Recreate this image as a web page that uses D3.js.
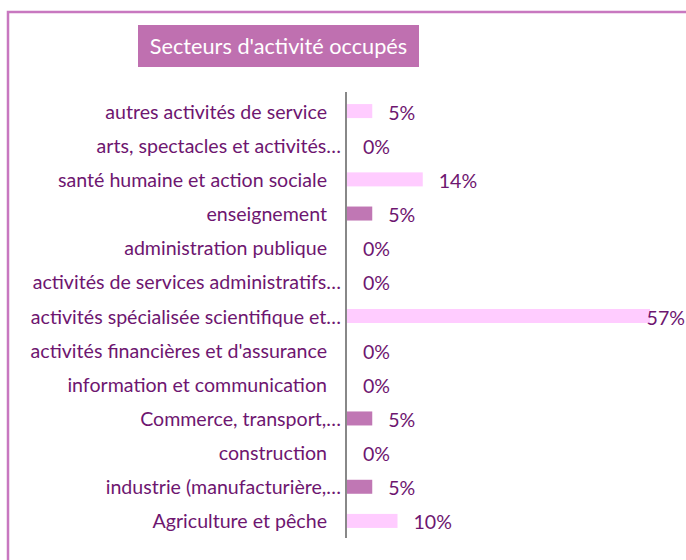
<!DOCTYPE html>
<html>
<head>
<meta charset="utf-8">
<script src="https://cdn.jsdelivr.net/npm/d3@7"></script>
<style>
  body { margin: 0; background: #fff; }
  svg { display: block; font-family: Lato, "Open Sans", sans-serif; }
</style>
</head>
<body>
<svg id="chart" width="686" height="560"></svg>
<script>
// categories, top to bottom as drawn
const categories = [
  "autres activités de service",
  "arts, spectacles et activités…",
  "santé humaine et action sociale",
  "enseignement",
  "administration publique",
  "activités de services administratifs…",
  "activités spécialisée scientifique et…",
  "activités financières et d'assurance",
  "information et communication",
  "Commerce, transport,…",
  "construction",
  "industrie (manufacturière,…",
  "Agriculture et pêche"
];
// share of respondents (counts out of 21)
const values = [1/21, 0, 3/21, 1/21, 0, 0, 12/21, 0, 0, 1/21, 0, 1/21, 2/21];
// highlighted rows get the darker fill
const highlighted = [false, false, false, true, false, false, false, false, false, true, false, true, false];

const svg = d3.select("#chart");

// outer frame
svg.append("rect")
  .attr("x", 8).attr("y", 12)
  .attr("width", 700).attr("height", 600)
  .attr("fill", "none")
  .attr("stroke", "#c878c0")
  .attr("stroke-width", 2.5);

// title box
svg.append("rect")
  .attr("x", 138).attr("y", 25)
  .attr("width", 281).attr("height", 42)
  .attr("fill", "#bf70b0");
svg.append("text")
  .attr("x", 278.5).attr("y", 46)
  .attr("text-anchor", "middle")
  .attr("dominant-baseline", "central")
  .attr("fill", "#fff")
  .attr("font-size", 21.7)
  .text("Secteurs d'activité occupés");

const x0 = 347;
const xScale = d3.scaleLinear().domain([0, 12/21]).range([x0, 650]);
const yScale = d3.scaleBand().domain(categories).range([94, 538])
  .paddingInner(0.59).paddingOuter(0.295);

const rows = categories.map((c, i) => ({ name: c, value: values[i], dark: highlighted[i] }));

// bars
svg.selectAll("rect.bar")
  .data(rows)
  .enter()
  .append("rect")
  .attr("class", "bar")
  .attr("x", x0)
  .attr("y", d => yScale(d.name))
  .attr("width", d => xScale(d.value) - x0)
  .attr("height", yScale.bandwidth())
  .attr("fill", d => d.dark ? "#c077b4" : "#ffccff");

// axis line
svg.append("line")
  .attr("x1", 346).attr("x2", 346)
  .attr("y1", 92).attr("y2", 538)
  .attr("stroke", "#888")
  .attr("stroke-width", 2);

const textColor = "#6e1670";

// category labels
svg.selectAll("text.cat")
  .data(rows)
  .enter()
  .append("text")
  .attr("class", "cat")
  .attr("x", d => d.name.endsWith("…") ? 341 : 327)
  .attr("y", d => yScale(d.name) + yScale.bandwidth() / 2)
  .attr("text-anchor", "end")
  .attr("dominant-baseline", "central")
  .attr("fill", textColor)
  .attr("font-size", 19.6)
  .text(d => d.name);

// value labels, pulled back inside the frame when they would overflow
svg.selectAll("text.val")
  .data(rows)
  .enter()
  .append("text")
  .attr("class", "val")
  .attr("y", d => yScale(d.name) + yScale.bandwidth() / 2 + 1)
  .attr("dominant-baseline", "central")
  .attr("fill", textColor)
  .attr("font-size", 19.6)
  .text(d => d3.format(".0%")(d.value))
  .attr("x", function (d) {
    let w = this.getComputedTextLength();
    return Math.min(xScale(d.value) + 16, 685 - w);
  });
</script>
</body>
</html>
